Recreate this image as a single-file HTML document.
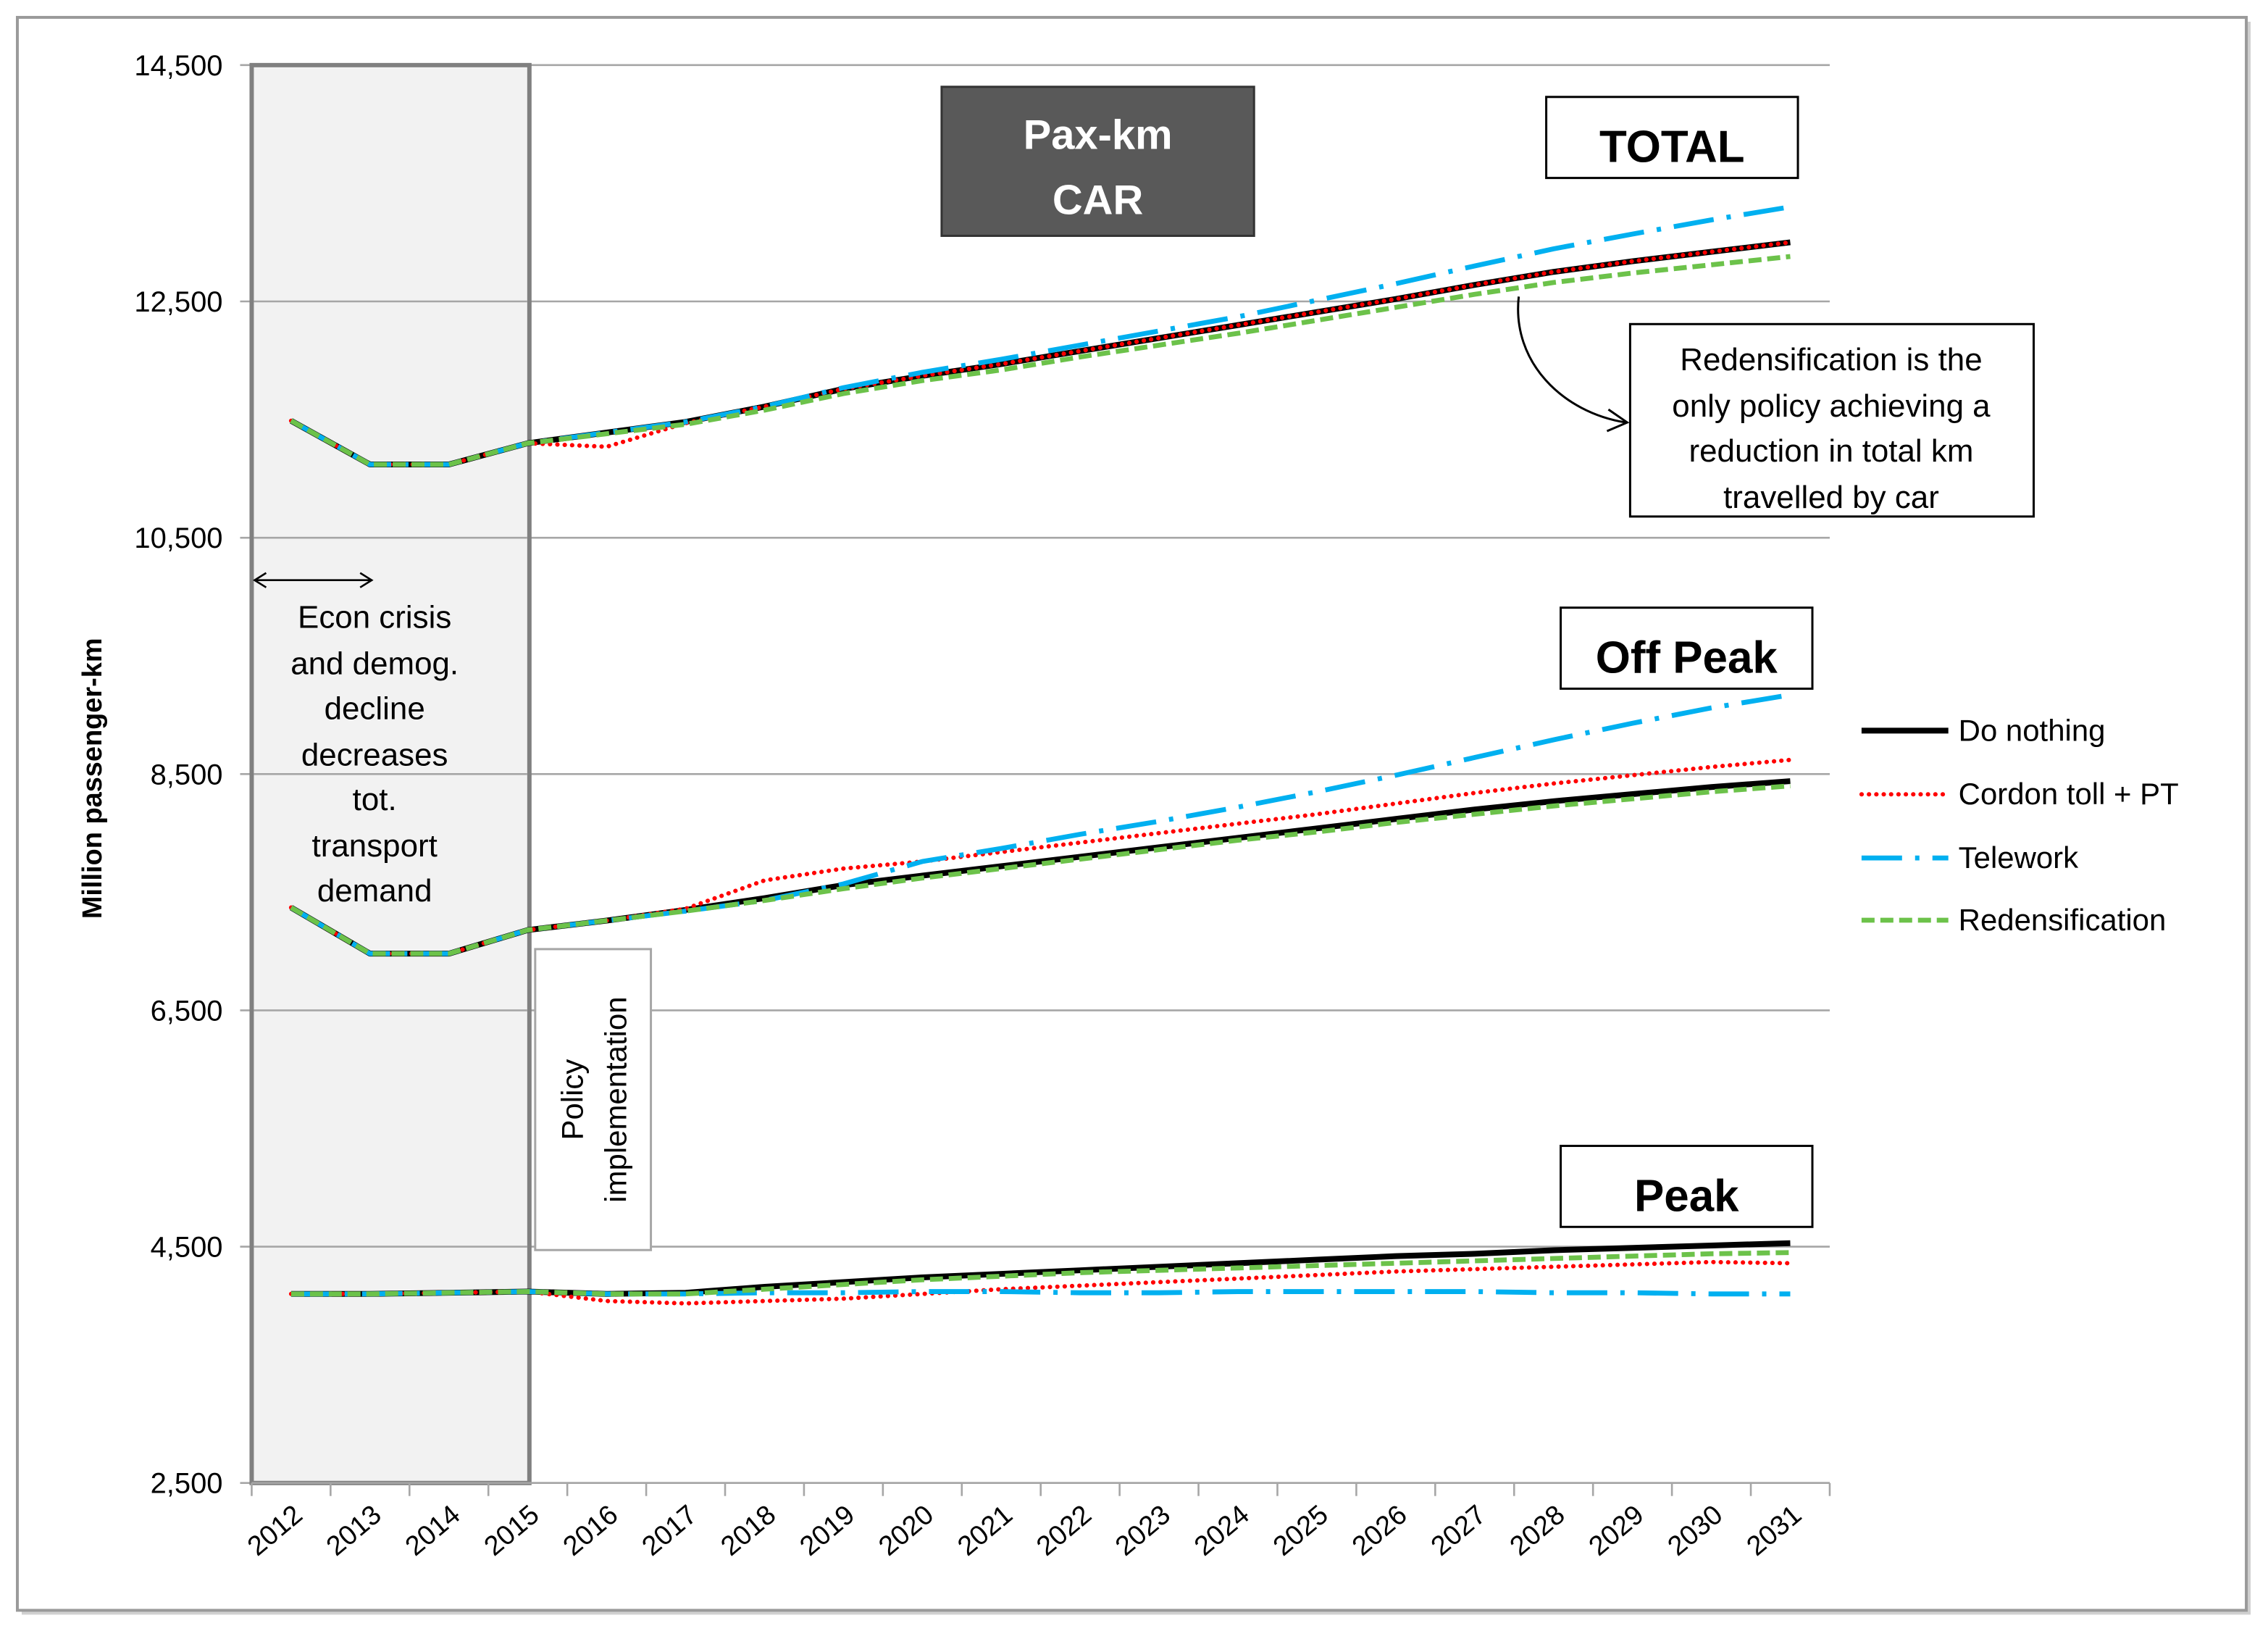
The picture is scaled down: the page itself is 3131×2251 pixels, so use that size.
<!DOCTYPE html>
<html><head><meta charset="utf-8"><style>
html,body{margin:0;padding:0;background:#fff;}
svg{display:block;font-family:"Liberation Sans",sans-serif;}
</style></head><body>
<svg id="chart" width="3131" height="2251" viewBox="0 0 1568 1127.3" xmlns="http://www.w3.org/2000/svg">
<rect x="15" y="15" width="1541" height="1101" fill="#d0d0d0"/>
<rect x="12" y="12" width="1541" height="1101" fill="#fff" stroke="#9a9a9a" stroke-width="2"/>
<g id="grid"></g>
<rect x="174" y="45" width="192" height="980" fill="#f2f2f2" stroke="#808080" stroke-width="3"/>
<g id="gridover"></g>
<g id="axes"></g>
<g id="series"></g>
<text transform="translate(70,538) rotate(-90)" text-anchor="middle" font-size="19" font-weight="bold">Million passenger-km</text>
<g>
<rect x="651" y="60" width="216" height="103" fill="#595959" stroke="#333" stroke-width="1.5"/>
<text x="759" y="103" text-anchor="middle" font-size="29" font-weight="bold" fill="#fff">Pax-km</text>
<text x="759" y="148" text-anchor="middle" font-size="29" font-weight="bold" fill="#fff">CAR</text>
</g>
<g>
<rect x="1069" y="67" width="174" height="56" fill="#fff" stroke="#000" stroke-width="1.5"/>
<text x="1156" y="112" text-anchor="middle" font-size="31" font-weight="bold">TOTAL</text>
</g>
<g>
<rect x="1079" y="420" width="174" height="56" fill="#fff" stroke="#000" stroke-width="1.5"/>
<text x="1166" y="465" text-anchor="middle" font-size="31" font-weight="bold">Off Peak</text>
</g>
<g>
<rect x="1079" y="792" width="174" height="56" fill="#fff" stroke="#000" stroke-width="1.5"/>
<text x="1166" y="837" text-anchor="middle" font-size="31" font-weight="bold">Peak</text>
</g>
<g font-size="22" text-anchor="middle">
<rect x="1127" y="224" width="279" height="133" fill="#fff" stroke="#000" stroke-width="1.5"/>
<text x="1266" y="256">Redensification is the</text>
<text x="1266" y="288">only policy achieving a</text>
<text x="1266" y="319">reduction in total km</text>
<text x="1266" y="351">travelled by car</text>
<path d="M1050,205 C1045,250 1080,285 1124,292" fill="none" stroke="#000" stroke-width="1.5"/>
<path d="M1112,283 L1125,292 L1111,298" fill="none" stroke="#000" stroke-width="1.5"/>
</g>
<g font-size="22" text-anchor="middle">
<line x1="176" y1="401" x2="257" y2="401" stroke="#000" stroke-width="1.3"/>
<path d="M184,396 L176,401 L184,406 M249,396 L257,401 L249,406" fill="none" stroke="#000" stroke-width="1.3"/>
<text x="259" y="434">Econ crisis</text>
<text x="259" y="466">and demog.</text>
<text x="259" y="497">decline</text>
<text x="259" y="529">decreases</text>
<text x="259" y="560">tot.</text>
<text x="259" y="592">transport</text>
<text x="259" y="623">demand</text>
</g>
<g>
<rect x="370" y="656" width="80" height="208" fill="#fff" stroke="#a6a6a6" stroke-width="1.5"/>
<text transform="translate(403,760) rotate(-90)" text-anchor="middle" font-size="21">Policy</text>
<text transform="translate(433,760) rotate(-90)" text-anchor="middle" font-size="21">implementation</text>
</g>
<g id="legend" font-size="21"></g>
</svg>
<script>
const categories=["2012","2013","2014","2015","2016","2017","2018","2019","2020","2021","2022","2023","2024","2025","2026","2027","2028","2029","2030","2031"];
const yTicks=[2500,4500,6500,8500,10500,12500,14500];
const yTickLabels=["2,500","4,500","6,500","8,500","10,500","12,500","14,500"];
const seriesNames=["Do nothing","Cordon toll + PT","Telework","Redensification"];
const totalDoNothing=[11490,11120,11120,11300,11390,11480,11610,11760,11870,11970,12080,12190,12300,12410,12520,12640,12750,12840,12920,13000];
const totalCordon=[11490,11120,11120,11300,11270,11470,11610,11760,11870,11970,12080,12190,12300,12410,12520,12640,12750,12840,12920,13000];
const totalTelework=[11490,11120,11120,11300,11390,11480,11610,11770,11900,12010,12130,12250,12370,12510,12650,12800,12945,13070,13190,13300];
const totalRedens=[11490,11120,11120,11300,11380,11460,11580,11720,11830,11920,12030,12130,12230,12340,12450,12560,12660,12740,12810,12880];
const offDoNothing=[7370,6980,6980,7180,7260,7350,7450,7560,7640,7720,7800,7880,7960,8040,8120,8200,8270,8330,8390,8440];
const offCordon=[7370,6980,6980,7180,7260,7360,7600,7700,7760,7840,7920,8000,8080,8160,8250,8340,8420,8490,8560,8620];
const offTelework=[7370,6980,6980,7180,7260,7340,7430,7570,7760,7870,7990,8100,8220,8350,8490,8640,8790,8930,9060,9170];
const offRedens=[7370,6980,6980,7180,7260,7340,7430,7530,7620,7700,7780,7860,7940,8010,8090,8160,8230,8290,8350,8400];
const peakDoNothing=[4100,4100,4110,4120,4100,4110,4160,4200,4240,4270,4300,4330,4360,4390,4420,4440,4470,4490,4510,4530];
const peakCordon=[4100,4100,4110,4120,4040,4020,4040,4060,4100,4140,4170,4200,4230,4260,4290,4310,4330,4350,4370,4360];
const peakTelework=[4100,4100,4110,4120,4100,4100,4110,4110,4120,4120,4110,4110,4120,4120,4120,4120,4110,4110,4100,4100];
const peakRedens=[4100,4100,4110,4120,4100,4100,4140,4180,4220,4250,4280,4300,4320,4340,4360,4380,4400,4420,4440,4450];

const NS="http://www.w3.org/2000/svg";
const X0=174,X1=1265,Y0=45,Y1=1025,VMIN=2500,VMAX=14500;
const bw=(X1-X0)/categories.length;
function xPos(i){return X0+bw*(i+0.5);}
function yPos(v){return Y1-(v-VMIN)/(VMAX-VMIN)*(Y1-Y0);}
function mk(tag,parent,attrs){const e=document.createElementNS(NS,tag);for(const k in attrs)e.setAttribute(k,attrs[k]);parent.appendChild(e);return e;}

const grid=document.getElementById('grid'),gridover=document.getElementById('gridover'),axes=document.getElementById('axes');
yTicks.forEach((v,i)=>{
  const g=mk('line',grid,{x1:X0-8,x2:X1,y1:yPos(v),y2:yPos(v),stroke:'#a6a6a6','stroke-width':1.3});
  
  
  if(v>VMIN&&v<VMAX){const go=mk('line',gridover,{x1:X0+1.5,x2:366-1.5,y1:yPos(v),y2:yPos(v),stroke:'#a6a6a6','stroke-width':1.3});
  
  }
  const t=mk('text',axes,{x:154,y:yPos(v)+7,'text-anchor':'end','font-size':20});
  t.textContent=yTickLabels[i];
  
  
});
const ax=mk('line',axes,{x1:X0,x2:X1,y1:Y1,y2:Y1,stroke:'#a6a6a6','stroke-width':1.3});


for(let i=0;i<=categories.length;i++){
  const tk=mk('line',axes,{x1:X0+bw*i,x2:X0+bw*i,y1:Y1,y2:Y1+9,stroke:'#a6a6a6','stroke-width':1.3});
  
  
}
categories.forEach((c,i)=>{
  const x=xPos(i)+9,y=Y1+24;
  const t=mk('text',axes,{x:x,y:y,'text-anchor':'end','font-size':19,transform:`rotate(-40 ${x} ${y})`});
  t.textContent=c;
  
  
});

const styles=[
  {stroke:'#000','stroke-width':4,'stroke-dasharray':'none'},
  {stroke:'#ff0000','stroke-width':3,'stroke-dasharray':'0.1 5','stroke-linecap':'round'},
  {stroke:'#00b0f0','stroke-width':3.4,'stroke-dasharray':'28 9 3 9'},
  {stroke:'#6cc24a','stroke-width':3.4,'stroke-dasharray':'9 4'}
];
const groups=[
  ['total',[totalDoNothing,totalCordon,totalTelework,totalRedens]],
  ['off-peak',[offDoNothing,offCordon,offTelework,offRedens]],
  ['peak',[peakDoNothing,peakCordon,peakTelework,peakRedens]]
];
const sg=document.getElementById('series');
const keys=['do-nothing','cordon-toll','telework','redensification'];
groups.forEach(([gname,arrs])=>{
  arrs.forEach((arr,si)=>{
    const d=arr.map((v,i)=>(i?'L':'M')+xPos(i).toFixed(2)+','+yPos(v).toFixed(2)).join(' ');
    const p=mk('path',sg,Object.assign({d:d,fill:'none','stroke-linejoin':'round'},styles[si]));
    
    
  });
});

const lg=document.getElementById('legend');
const ly=[505,549,593,636];
seriesNames.forEach((n,i)=>{
  const l=mk('line',lg,Object.assign({x1:1287,x2:1347,y1:ly[i],y2:ly[i]},styles[i]));
  
  
  const t=mk('text',lg,{x:1354,y:ly[i]+7});
  t.textContent=n;
  
  
});
</script>
</body></html>
